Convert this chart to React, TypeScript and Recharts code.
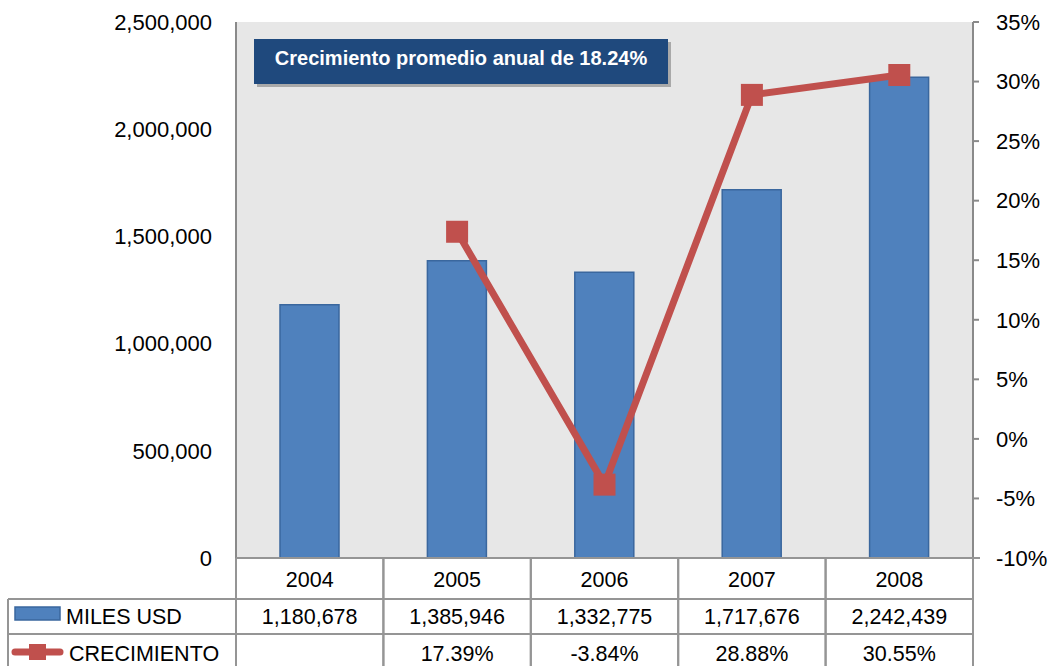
import React from "react";
import {
  ComposedChart,
  Bar,
  Line,
  XAxis,
  YAxis,
  CartesianGrid,
} from "recharts";

const years = ["2004", "2005", "2006", "2007", "2008"];
const milesUsd = [1180678, 1385946, 1332775, 1717676, 2242439];
const crecimiento: (number | null)[] = [null, 17.39, -3.84, 28.88, 30.55];
const leftTicks = [0, 500000, 1000000, 1500000, 2000000, 2500000];
const rightTicks = [-10, -5, 0, 5, 10, 15, 20, 25, 30, 35];
const titleText = "Crecimiento promedio anual de 18.24%";
const seriesNames = ["MILES USD", "CRECIMIENTO"];

const W = 1051;
const H = 666;
const PLOT_LEFT = 236;
const PLOT_RIGHT = 973;
const PLOT_TOP = 22;
const PLOT_BOTTOM = 558;
const COL_W = (PLOT_RIGHT - PLOT_LEFT) / years.length;
const ROW1 = 599;
const ROW2 = 634;
const TABLE_LEFT = 8;

const FONT = "'Liberation Sans', Arial, sans-serif";
const GRID = "#959595";
const BLUE = "#4F81BD";
const RED = "#C0504D";
const CELL_FONT = 21.5;

const data = years.map((year, i) => ({
  year,
  miles: milesUsd[i],
  crec: crecimiento[i],
}));

const fmt = (v: number) => v.toLocaleString("en-US");

// one column of the data table, positioned by the x axis scale
const TableTick = (props: any) => {
  const { x, index } = props;
  const l = x - COL_W / 2;
  const r = x + COL_W / 2;
  const g = crecimiento[index];
  return (
    <g>
      <line x1={l} x2={l} y1={PLOT_BOTTOM} y2={H} stroke={GRID} strokeWidth={2} />
      <line x1={r} x2={r} y1={PLOT_BOTTOM} y2={H} stroke={GRID} strokeWidth={2} />
      <text x={x} y={587} textAnchor="middle" fontSize={CELL_FONT} fontFamily={FONT} fill="#000">
        {years[index]}
      </text>
      <text x={x} y={624} textAnchor="middle" fontSize={CELL_FONT} fontFamily={FONT} fill="#000">
        {fmt(milesUsd[index])}
      </text>
      {g !== null && (
        <text x={x} y={661} textAnchor="middle" fontSize={CELL_FONT} fontFamily={FONT} fill="#000">
          {`${g.toFixed(2)}%`}
        </text>
      )}
    </g>
  );
};

const SquareDot = (props: any) => {
  const { cx, cy, index } = props;
  if (cy == null || isNaN(cy)) return <g key={`d-${index}`} />;
  return <rect key={`d-${index}`} x={cx - 11} y={cy - 11} width={22} height={22} fill={RED} />;
};

export default function App() {
  return (
    <div style={{ position: "absolute", left: 0, top: 0, width: W, height: H, background: "#fff", overflow: "hidden" }}>
      <ComposedChart
        width={W}
        height={H}
        data={data}
        margin={{ top: PLOT_TOP, right: 0, bottom: 0, left: 0 }}
        barSize={59}
      >
        <CartesianGrid fill="#e7e7e7" horizontal={false} vertical={false} />
        <XAxis
          dataKey="year"
          height={H - PLOT_BOTTOM}
          axisLine={false}
          tickLine={false}
          interval={0}
          tick={<TableTick />}
        />
        <YAxis
          yAxisId="left"
          width={PLOT_LEFT}
          domain={[0, 2500000]}
          ticks={leftTicks}
          tickFormatter={fmt}
          axisLine={{ stroke: "#8a8a8a", strokeWidth: 2 }}
          tickLine={false}
          tickSize={0}
          tickMargin={24}
          tick={{ fontSize: 22, fontFamily: FONT, fill: "#000" }}
        />
        <YAxis
          yAxisId="right"
          orientation="right"
          width={W - PLOT_RIGHT}
          domain={[-10, 35]}
          ticks={rightTicks}
          tickFormatter={(v: number) => `${v}%`}
          axisLine={{ stroke: "#8a8a8a", strokeWidth: 2 }}
          tickLine={{ stroke: "#8a8a8a", strokeWidth: 2 }}
          tickSize={6}
          tickMargin={17}
          tick={{ fontSize: 22, fontFamily: FONT, fill: "#000" }}
        />
        <Bar
          yAxisId="left"
          dataKey="miles"
          name={seriesNames[0]}
          fill={BLUE}
          stroke="#3A679E"
          strokeWidth={1.5}
          isAnimationActive={false}
        />
        <Line
          yAxisId="right"
          dataKey="crec"
          name={seriesNames[1]}
          stroke={RED}
          strokeWidth={7}
          dot={<SquareDot />}
          activeDot={false}
          isAnimationActive={false}
        />
      </ComposedChart>

      {/* table frame and legend column */}
      <svg width={W} height={H} style={{ position: "absolute", left: 0, top: 0, pointerEvents: "none" }}>
        <line x1={PLOT_LEFT} x2={PLOT_RIGHT + 7} y1={PLOT_BOTTOM} y2={PLOT_BOTTOM} stroke={GRID} strokeWidth={2} />
        <line x1={TABLE_LEFT} x2={PLOT_RIGHT} y1={ROW1} y2={ROW1} stroke={GRID} strokeWidth={2} />
        <line x1={TABLE_LEFT} x2={PLOT_RIGHT} y1={ROW2} y2={ROW2} stroke={GRID} strokeWidth={2} />
        <line x1={TABLE_LEFT} x2={TABLE_LEFT} y1={ROW1} y2={H} stroke={GRID} strokeWidth={2} />
        <rect x={15} y={607} width={45} height={13} fill={BLUE} stroke="#3A679E" strokeWidth={1.5} />
        <text x={66} y={624} fontSize={CELL_FONT} fontFamily={FONT} fill="#000">{seriesNames[0]}</text>
        <line x1={15} x2={60} y1={652} y2={652} stroke={RED} strokeWidth={7} strokeLinecap="round" />
        <rect x={29} y={644} width={17} height={16} fill={RED} />
        <text x={69} y={661} fontSize={CELL_FONT} fontFamily={FONT} fill="#000">{seriesNames[1]}</text>
      </svg>

      {/* title box */}
      <div style={{ position: "absolute", left: 257, top: 42, width: 414, height: 45, background: "#a9a9a9" }} />
      <div
        style={{
          position: "absolute",
          left: 254,
          top: 39,
          width: 414,
          height: 45,
          background: "#1F497D",
          color: "#fff",
          fontFamily: FONT,
          fontWeight: "bold",
          fontSize: 20,
          display: "flex",
          alignItems: "center",
          justifyContent: "center",
          paddingBottom: 6,
          boxSizing: "border-box",
        }}
      >
        {titleText}
      </div>
    </div>
  );
}
